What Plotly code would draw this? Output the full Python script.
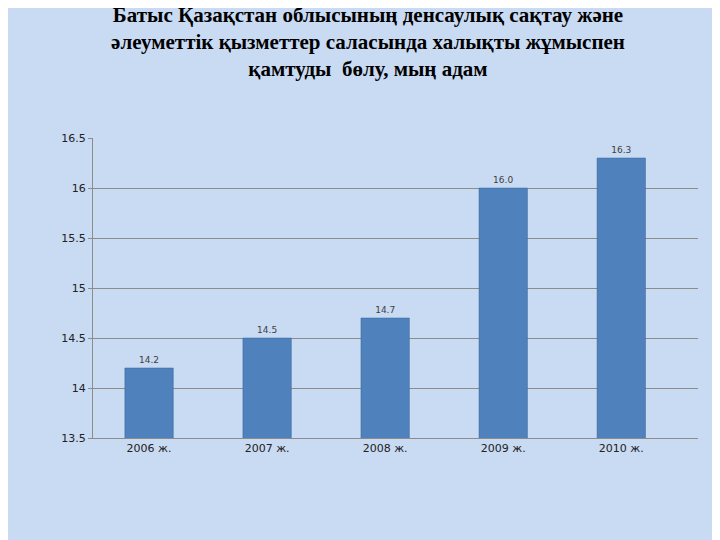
import plotly.graph_objects as go

years = ["2006 ж.", "2007 ж.", "2008 ж.", "2009 ж.", "2010 ж."]
values = [14.2, 14.5, 14.7, 16.0, 16.3]
value_labels = ["14.2", "14.5", "14.7", "16.0", "16.3"]

fig = go.Figure(go.Bar(
    x=[0, 1, 2, 3, 4], y=values, text=value_labels,
    textposition="outside", textfont=dict(size=9, color="#404040"),
    marker=dict(color="#4F81BD", line=dict(color="#3A6596", width=0.5)),
    width=0.41, cliponaxis=False,
))

fig.update_layout(
    width=720, height=540,
    paper_bgcolor="#C9DAF3", plot_bgcolor="rgba(0,0,0,0)",
    margin=dict(l=85, r=30, t=130, b=110),
    title=dict(
        text="<b>Батыс Қазақстан облысының денсаулық сақтау және<br>әлеуметтік қызметтер саласында халықты жұмыспен<br>қамтуды  бөлу, мың адам</b>",
        x=0.5, xanchor="center", y=0.975, yanchor="top",
        font=dict(family="Liberation Serif", size=21, color="black"),
    ),
    font=dict(family="DejaVu Sans", size=11, color="#222222"),
    showlegend=False,
)
fig.update_yaxes(range=[13.5, 16.5], tickvals=[13.5, 14, 14.5, 15, 15.5, 16, 16.5],
                 ticktext=["13.5", "14", "14.5", "15", "15.5", "16", "16.5"],
                 showgrid=True, gridcolor="#8C8C8C", gridwidth=1,
                 showline=True, linecolor="#8C8C8C", ticks="outside", ticklen=4, tickcolor="#8C8C8C")
fig.update_xaxes(range=[-0.475, 4.65], tickvals=[0, 1, 2, 3, 4], ticktext=years,
                 showgrid=False, zeroline=False,
                 showline=True, linecolor="#8C8C8C", ticks="", tickfont=dict(size=11))

fig.write_html("out.html")
